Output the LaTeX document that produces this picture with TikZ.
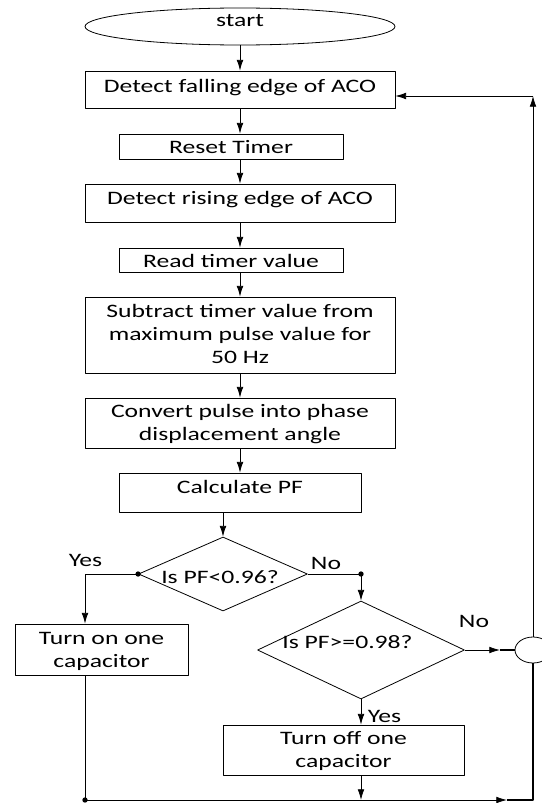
\documentclass[tikz,border=0pt]{standalone}
\usepackage{fontspec}
\setmainfont{Carlito}[FakeStretch=1.35]
\usetikzlibrary{shapes.geometric,arrows.meta}
\tikzset{
box/.style={draw, inner sep=0pt, align=center},
wide/.style={box, minimum width=232.5pt},
narrow/.style={box, minimum width=168pt},
fat/.style={line width=1.6pt}
}

\begin{document}
\begin{tikzpicture}[x=0.75pt, y=-0.75pt, line join=round, line width=0.6pt,
  >={Latex[length=8pt,width=5pt]}, font=\fontsize{14.25pt}{17.25pt}\selectfont]
\useasboundingbox (0,0) rectangle (542,803);
\node[ellipse, draw, inner sep=0pt, minimum width=232.5pt, minimum height=27.75pt,
  text height=3pt, text depth=3pt] (start) at (240,26.5) {start};
\node[wide,   text height=15.75pt, text depth=12pt]    (fall)  at (240,89.5)  {Detect falling edge of ACO};
\node[narrow, text height=14.25pt, text depth=4.5pt]   (reset) at (231,146.5) {Reset Timer};
\node[wide,   text height=15pt,    text depth=13.5pt]  (rise)  at (240,203)   {Detect rising edge of ACO};
\node[narrow, text height=14.25pt, text depth=3.75pt]  (read)  at (231,260)   {Read timer value};
\node[wide,   text height=49.5pt,  text depth=7.5pt]   (sub)   at (240,335)   {Subtract timer value from\\maximum pulse value for\\50 Hz};
\node[wide,   text height=31.5pt,  text depth=6pt]     (conv)  at (240,423)   {Convert pulse into phase\\displacement angle};
\node[box, minimum width=181.5pt, text height=15pt, text depth=14.25pt] (calc) at (240,492.5) {Calculate PF};
\node[diamond, draw, inner sep=0pt, minimum width=126.75pt, minimum height=55.5pt] (lt) at (223,574) {};
\node[diamond, draw, inner sep=0pt, minimum width=155.25pt, minimum height=73.5pt] (ge) at (361,650) {};
\node[anchor=base] (q1) at (220,583)   {Is PF<0.96?};
\node[anchor=base] (q2) at (347.5,648) {Is PF>=0.98?};
\node[box, minimum width=129.75pt, text height=32.25pt, text depth=6pt] (on)  at (101.5,649.5) {Turn on one\\capacitor};
\node[box, minimum width=180.75pt, text height=31.5pt,  text depth=6pt] (off) at (343.5,750)   {Turn off one\\capacitor};
\node[ellipse, draw, inner sep=0pt, minimum width=27pt, minimum height=19.5pt] (join) at (533,650) {};
\node[anchor=base] (yes1) at (85.5,566) {Yes};
\node[anchor=base] (no1)  at (326,569)  {No};
\node[anchor=base] (no2)  at (474,627)  {No};
\node[anchor=base] (yes2) at (384.5,722) {Yes};
\coordinate (yc) at (85,574);
\coordinate (nc) at (361,574);
\coordinate (tc) at (533,96);
\coordinate (bl) at (85,800);
\coordinate (br) at (533,800);
\coordinate (ar1) at (500,650);
\coordinate (ar2) at (507,800);
\draw[->] (start) -- (fall);
\draw[->] (fall.south) -- (fall.south |- reset.north);
\draw[->] (rise.north |- reset.south) -- (rise.north);
\draw[->] (rise.south) -- (rise.south |- read.north);
\draw[->] (sub.north |- read.south) -- (sub.north);
\draw[->] (sub) -- (conv);
\draw[->] (conv) -- (calc);
\draw[->] (lt.north |- calc.south) -- (lt.north);
\draw[->] (lt.west) -- (yc) -- (yc |- on.north);
\draw[->] (lt.east) -- (nc) -- (ge.north);
\draw[->] (ge.south) -- (ge.south |- off.north);
\draw[->] (ge.south |- off.south) -- (ge.south |- bl);
\draw (yc |- on.south) -- (bl);
\draw[->] (bl) -- (ar2);
\draw[fat] (ar2) -- (br) -- (join.south);
\draw[->] (ge.east) -- (ar1);
\draw[fat] (ar1) -- (join.west);
\draw[->] (join.north) -- (tc);
\draw[->] (tc) -- (fall.east |- tc);
\fill (lt.west) circle (2pt);
\fill (nc) circle (2pt);
\fill (bl) circle (2pt);
\end{tikzpicture}
\end{document}
